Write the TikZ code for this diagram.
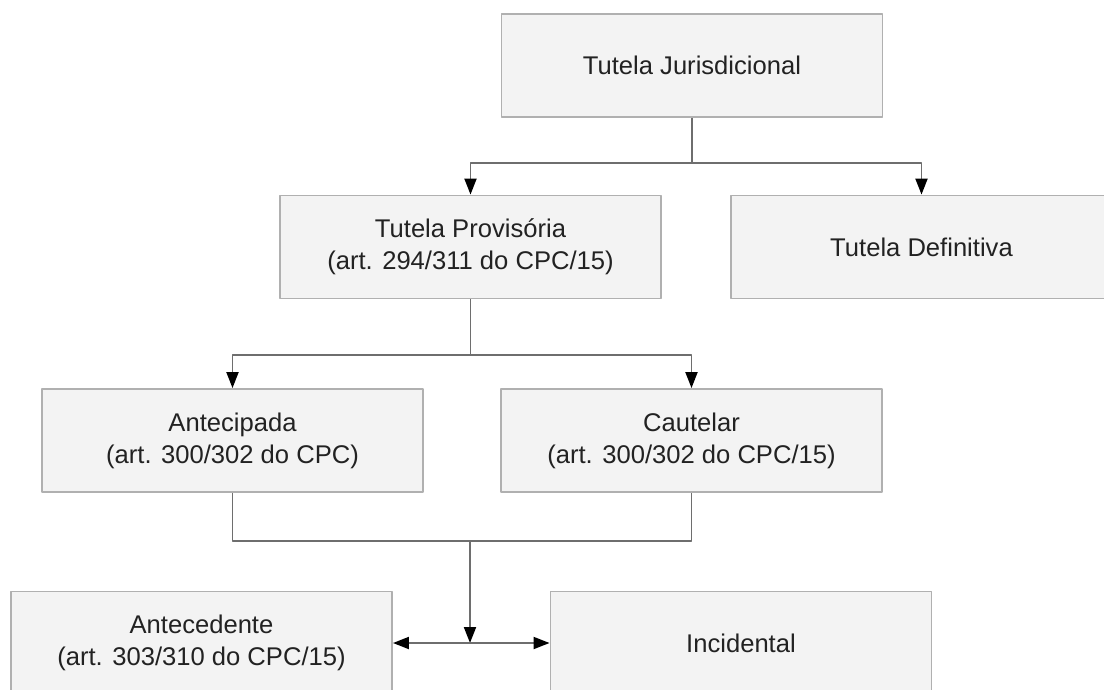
\documentclass[tikz,border=0pt]{standalone}
\usepackage{fontspec}
\setmainfont{Liberation Sans}
\usetikzlibrary{arrows.meta}
\definecolor{boxfill}{HTML}{F3F3F3}
\definecolor{boxline}{HTML}{B0B0B0}
\definecolor{connline}{HTML}{6E6E6E}
\definecolor{txt}{HTML}{222222}
\begin{document}
\begin{tikzpicture}[x=0.025cm,y=-0.025cm,line join=round,
	>={Triangle[length=0.4cm,width=0.3cm,color=black,fill=black]},
	caixa/.style={draw=boxline,fill=boxfill,line width=1.3pt,minimum width=9.525cm,
		minimum height=2.575cm,align=center,text=txt,inner sep=0pt,
		font=\fontsize{18.2}{22.8}\selectfont},
	liga/.style={draw=connline,line width=1.4pt}]
	\useasboundingbox (0,0) rectangle (1104,690);
	\clip (0,0) rectangle (1104,690);
	\node[caixa] (tj) at (692,65.5) {Tutela Jurisdicional};
	\node[caixa] (tp) at (470.5,247) {Tutela Provisória\\(art. 294/311 do CPC/15)};
	\node[caixa] (td) at (921.5,247) {Tutela Definitiva};
	\node[caixa] (ta) at (232.5,440.5) {Antecipada\\(art. 300/302 do CPC)};
	\node[caixa] (tc) at (691.5,440.5) {Cautelar\\(art. 300/302 do CPC/15)};
	\node[caixa] (tn) at (201.5,643) {Antecedente\\(art. 303/310 do CPC/15)};
	\node[caixa] (ti) at (741,643) {Incidental};
	\path
	(692,163) coordinate (j1)
	(470.5,355) coordinate (j2)
	(470,541) coordinate (j3)
	(470,643) coordinate (j4)
	;
	\draw[liga] (tj.south)--(j1);
	\foreach \n in {tp,td}
	\draw[liga,->] (j1) -| (\n.north);
	\draw[liga] (tp.south)--(j2);
	\foreach \n in {ta,tc}
	\draw[liga,->] (j2) -| (\n.north);
	\draw[liga] (ta.south) |- (j3) -| (tc.south);
	\draw[liga,->] (j3)--(j4);
	\draw[liga,<->] (tn.east)--(ti.west);
\end{tikzpicture}
\end{document}
